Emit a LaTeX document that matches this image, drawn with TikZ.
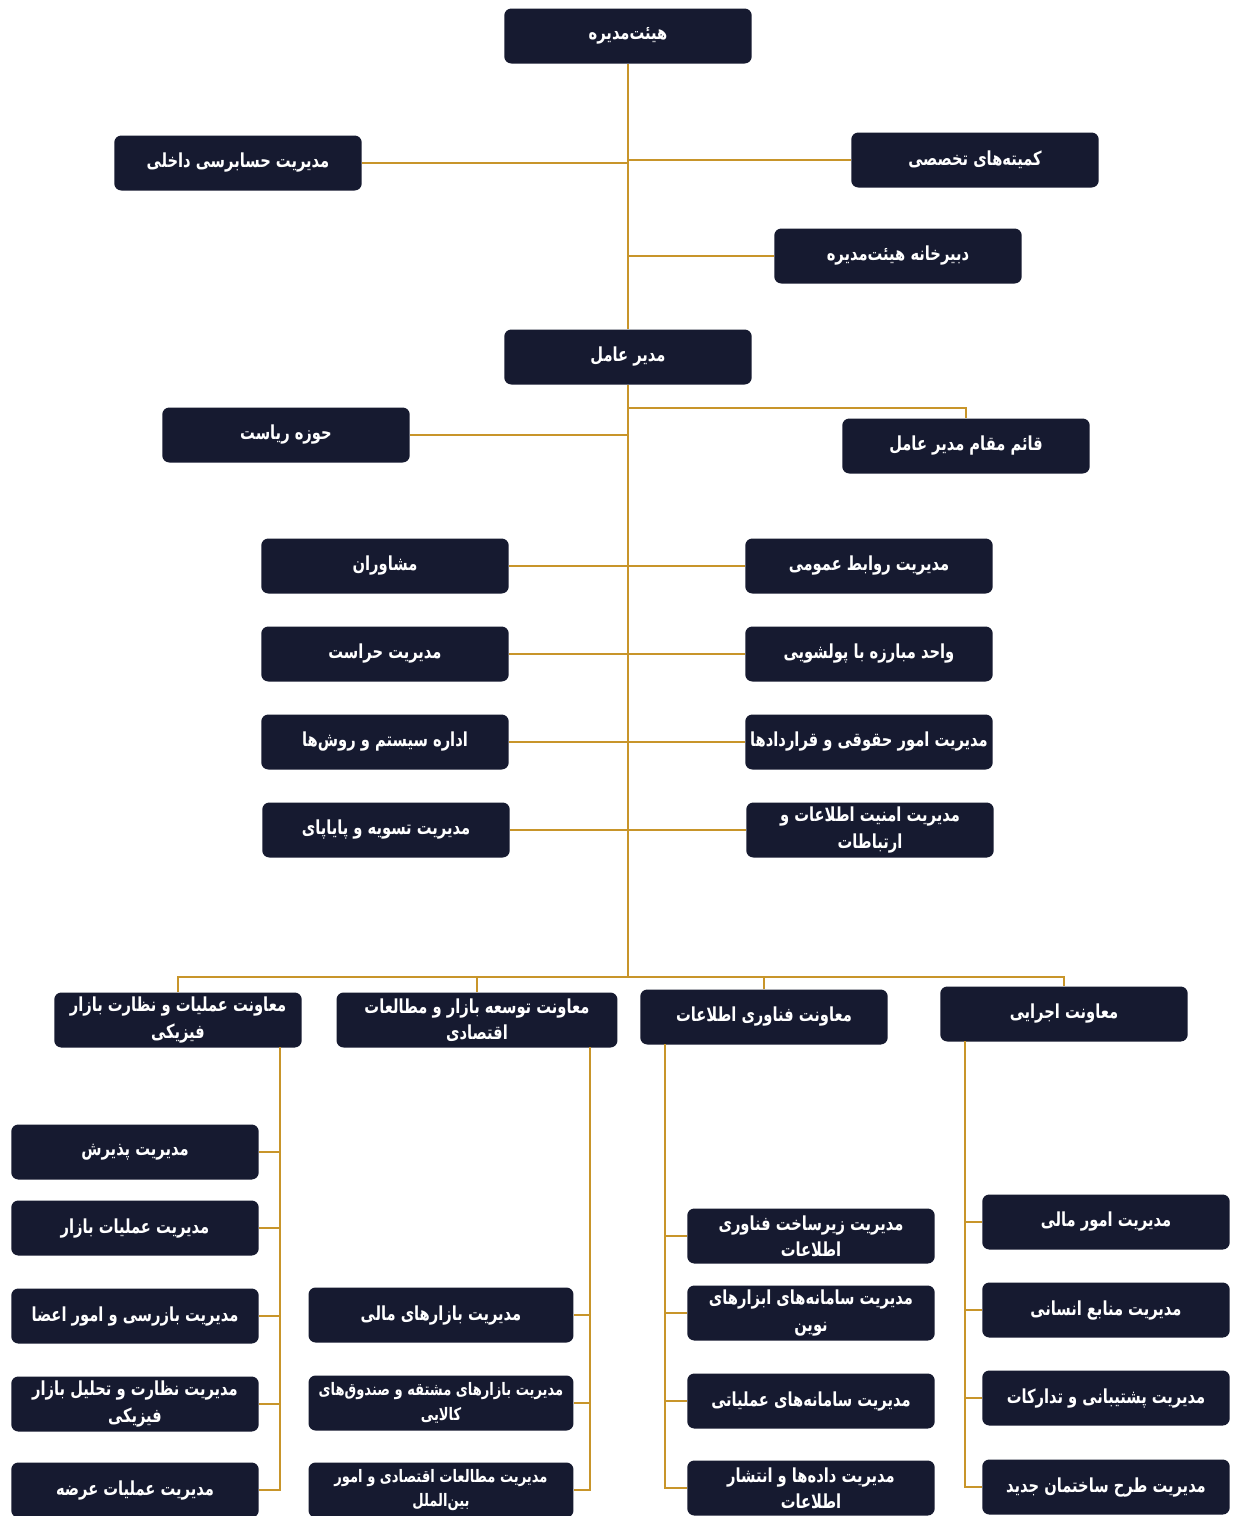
\documentclass[tikz,border=0pt]{standalone}
\usepackage{fontspec}
\newfontfamily\arabicfont[Script=Arabic, FakeStretch=0.76]{DejaVu Sans}
\TeXXeTstate=1
\usetikzlibrary{positioning}

\definecolor{boxnavy}{HTML}{161A30}
\definecolor{linegold}{HTML}{C8952A}
\newcommand{\fatext}[1]{\beginR #1\endR}

\tikzset{
  unit/.style={fill=boxnavy, text=white, rounded corners=4pt,
    minimum width=4.95cm, minimum height=1.1cm, align=center, inner sep=2pt,
    font=\arabicfont\bfseries\fontsize{11}{15}\selectfont},
  wideunit/.style={unit, minimum width=5.3cm},
  smalltext/.style={font=\arabicfont\bfseries\fontsize{9.8}{14}\selectfont},
  link/.style={draw=linegold, line width=1.2pt},
}

\begin{document}
\begin{tikzpicture}[x=0.02cm, y=-0.02cm]
  \useasboundingbox (0,0) rectangle (1235,1516);
  \fill[white] (0,0) rectangle (1235,1516);

  % Board level
  \node[unit] (board) at (628,36) {\fatext{هیئت‌مدیره}};
  \node[unit] (audit) at (238,163) {\fatext{مدیریت حسابرسی داخلی}};
  \node[unit] (committees) at (975,160) {\fatext{کمیته‌های تخصصی}};
  \node[unit] (secretariat) at (898,256) {\fatext{دبیرخانه هیئت‌مدیره}};

  % CEO level
  \node[unit] (ceo) at (628,357) {\fatext{مدیر عامل}};
  \node[unit] (presidency) at (286,435) {\fatext{حوزه ریاست}};
  \node[unit] (deputy) at (966,446) {\fatext{قائم مقام مدیر عامل}};

  % Staff units
  \node[unit] (advisors) at (385,566) {\fatext{مشاوران}};
  \node[unit] (pr) at (869,566) {\fatext{مدیریت روابط عمومی}};
  \node[unit] (security) at (385,654) {\fatext{مدیریت حراست}};
  \node[unit] (aml) at (869,654) {\fatext{واحد مبارزه با پولشویی}};
  \node[unit] (systems) at (385,742) {\fatext{اداره سیستم و روش‌ها}};
  \node[unit] (legal) at (869,742) {\fatext{مدیریت امور حقوقی و قراردادها}};
  \node[unit] (settlement) at (386,830) {\fatext{مدیریت تسویه و پایاپای}};
  \node[unit] (infosec) at (870,830) {\fatext{مدیریت امنیت اطلاعات و}\\\fatext{ارتباطات}};

  % Deputies
  \node[unit] (vpops) at (178,1020) {\fatext{معاونت عملیات و نظارت بازار}\\\fatext{فیزیکی}};
  \node[unit, minimum width=5.62cm] (vpdev) at (477,1020) {\fatext{معاونت توسعه بازار و مطالعات}\\\fatext{اقتصادی}};
  \node[unit] (vpit) at (764,1017) {\fatext{معاونت فناوری اطلاعات}};
  \node[unit] (vpexec) at (1064,1014) {\fatext{معاونت اجرایی}};

  % Physical market operations
  \node[unit] (reception) at (135,1152) {\fatext{مدیریت پذیرش}};
  \node[unit] (mktops) at (135,1228) {\fatext{مدیریت عملیات بازار}};
  \node[unit] (inspection) at (135,1316) {\fatext{مدیریت بازرسی و امور اعضا}};
  \node[unit] (monitoring) at (135,1404) {\fatext{مدیریت نظارت و تحلیل بازار}\\\fatext{فیزیکی}};
  \node[unit] (supply) at (135,1490) {\fatext{مدیریت عملیات عرضه}};

  % Market development
  \node[wideunit] (finmkt) at (441,1315) {\fatext{مدیریت بازارهای مالی}};
  \node[wideunit, smalltext] (deriv) at (441,1403)
    {\fatext{مدیریت بازارهای مشتقه و صندوق‌های}\\\fatext{کالایی}};
  \node[wideunit, smalltext] (studies) at (441,1490)
    {\fatext{مدیریت مطالعات اقتصادی و امور}\\\fatext{بین‌الملل}};

  % IT
  \node[unit] (infra) at (811,1236) {\fatext{مدیریت زیرساخت فناوری}\\\fatext{اطلاعات}};
  \node[unit] (newtools) at (811,1313) {\fatext{مدیریت سامانه‌های ابزارهای}\\\fatext{نوین}};
  \node[unit] (opsys) at (811,1401) {\fatext{مدیریت سامانه‌های عملیاتی}};
  \node[unit] (data) at (811,1488) {\fatext{مدیریت داده‌ها و انتشار}\\\fatext{اطلاعات}};

  % Executive
  \node[unit] (finance) at (1106,1222) {\fatext{مدیریت امور مالی}};
  \node[unit] (hr) at (1106,1310) {\fatext{مدیریت منابع انسانی}};
  \node[unit] (support) at (1106,1398) {\fatext{مدیریت پشتیبانی و تدارکات}};
  \node[unit] (building) at (1106,1487) {\fatext{مدیریت طرح ساختمان جدید}};

  % Trunk
  \coordinate (fork) at (628,408);
  \coordinate (bus) at (628,977);
  \draw[link] (board.south) -- (ceo.north);
  \draw[link] (ceo.south) -- (bus);
  \draw[link] (audit.east) -- (audit.east -| board.south);
  \draw[link] (committees.west) -- (committees.west -| board.south);
  \draw[link] (secretariat.west) -- (secretariat.west -| board.south);
  \draw[link] (presidency.east) -- (presidency.east -| ceo.south);
  \draw[link] (fork) -| (deputy.north);
  \foreach \l/\r in {advisors/pr, security/aml, systems/legal, settlement/infosec}
    \draw[link] (\l.east) -- (\r.west);

  % Bus to deputies
  \foreach \v in {vpops, vpdev, vpit, vpexec}
    \draw[link] (\v.north) |- (bus);

  % Drops to departments
  \coordinate (opsdrop) at (280,1047);
  \coordinate (devdrop) at (590,1047);
  \coordinate (itdrop) at (665,1044);
  \coordinate (execdrop) at (965,1041);
  \foreach \c in {reception, mktops, inspection, monitoring, supply}
    \draw[link] (opsdrop) |- (\c.east);
  \foreach \c in {finmkt, deriv, studies}
    \draw[link] (devdrop) |- (\c.east);
  \foreach \c in {infra, newtools, opsys, data}
    \draw[link] (itdrop) |- (\c.west);
  \foreach \c in {finance, hr, support, building}
    \draw[link] (execdrop) |- (\c.west);
\end{tikzpicture}
\end{document}
